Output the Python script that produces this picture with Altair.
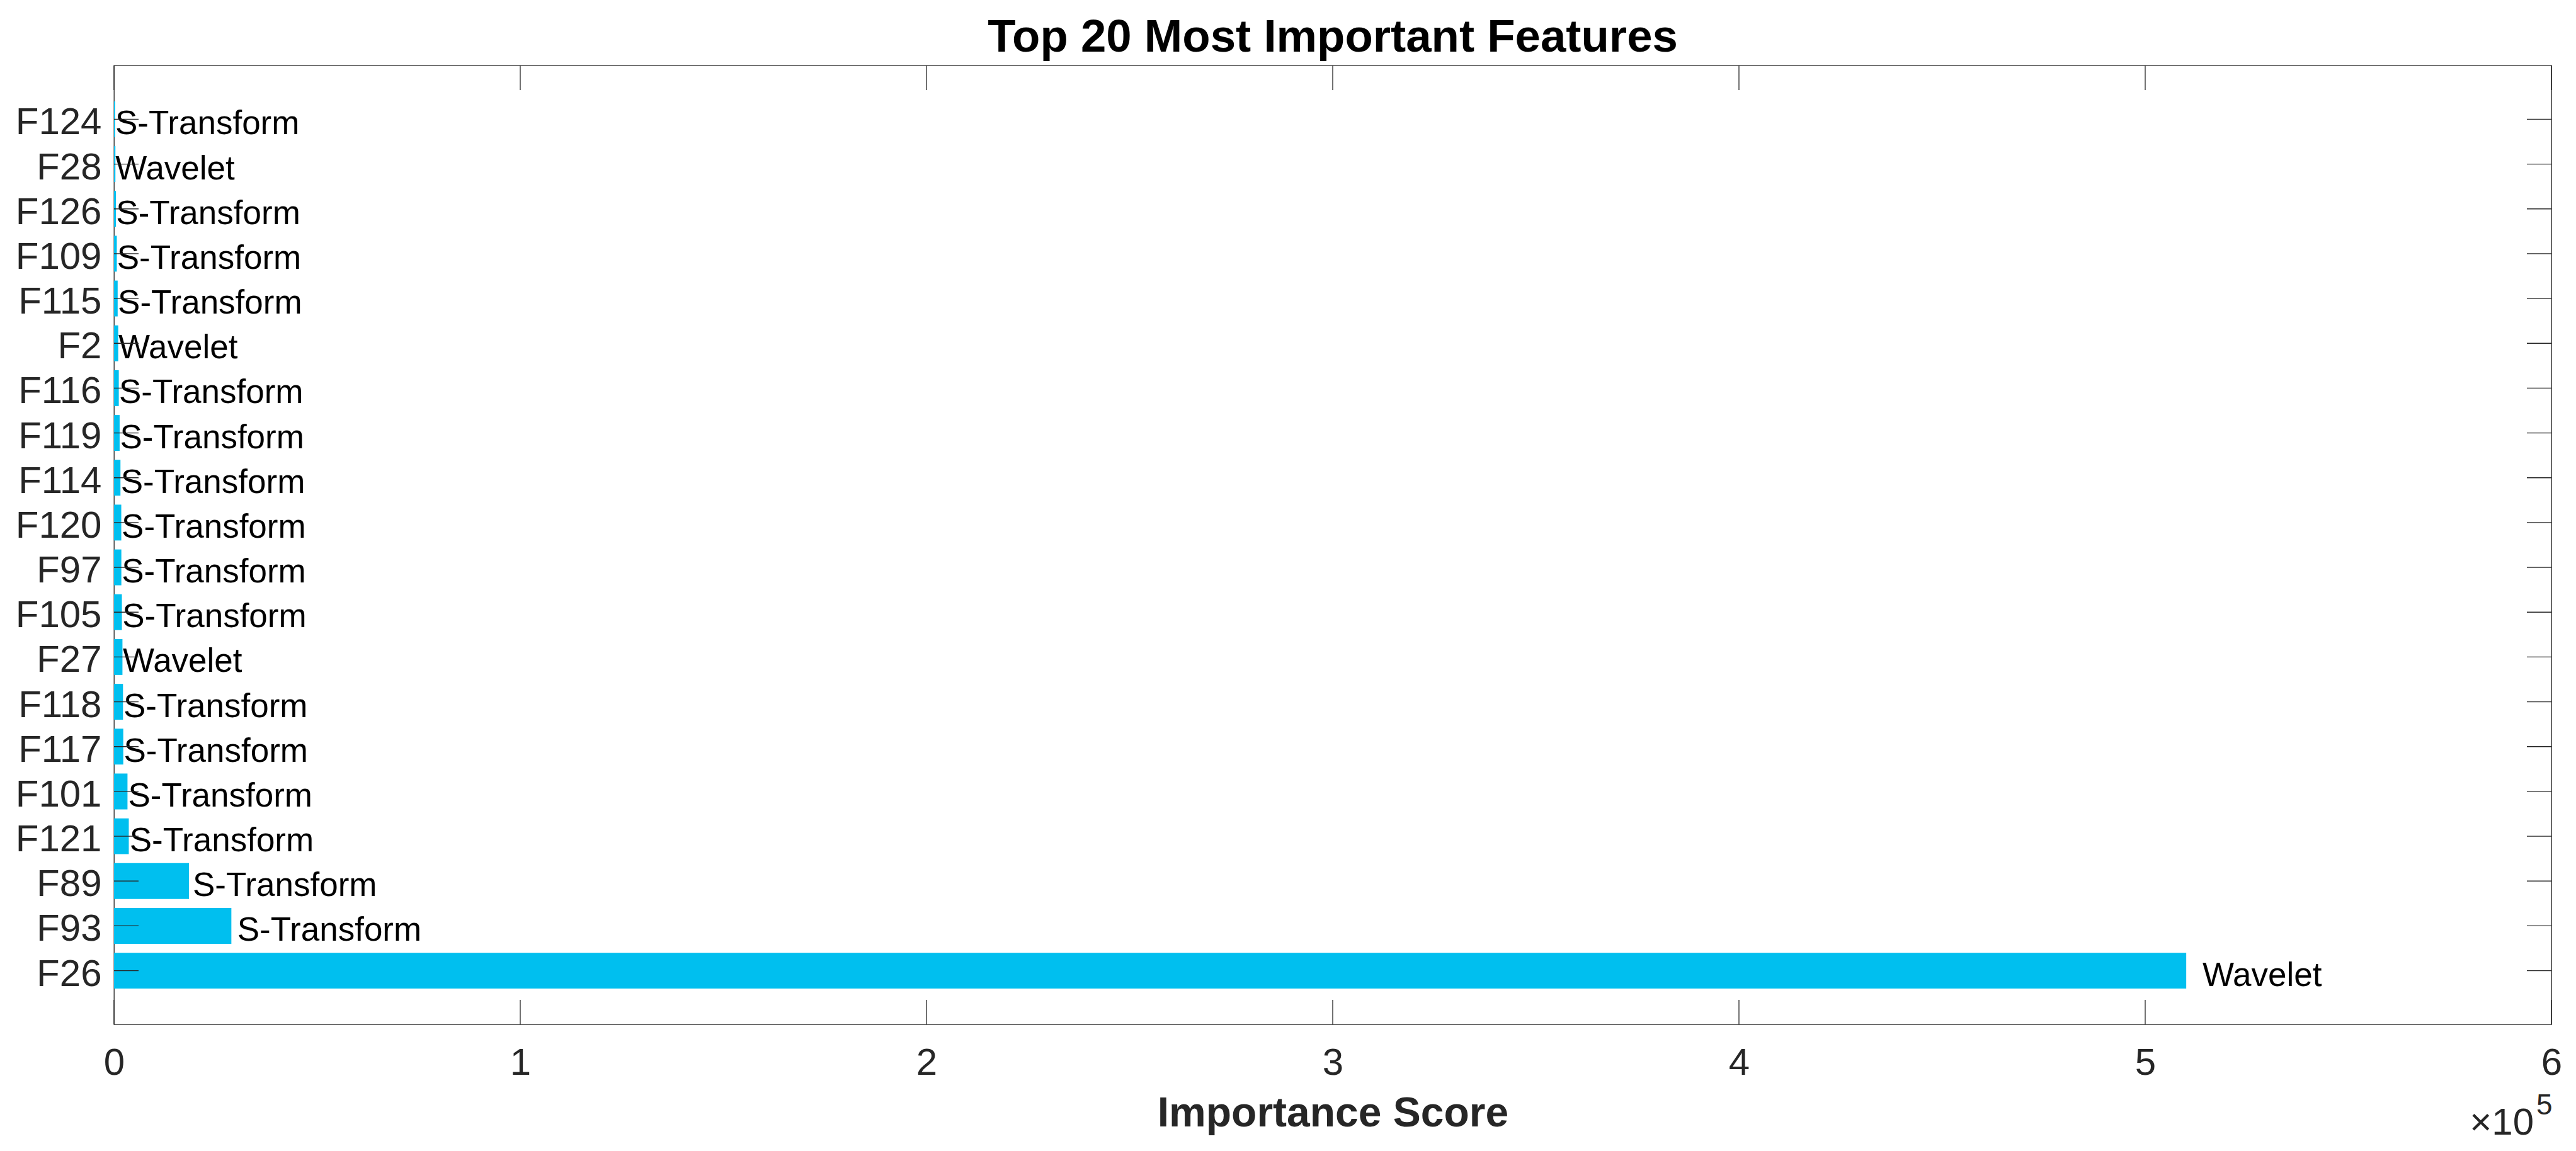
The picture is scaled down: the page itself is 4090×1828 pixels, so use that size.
import altair as alt
import pandas as pd

# ---- data ----
features = ["F124", "F28", "F126", "F109", "F115", "F2", "F116", "F119", "F114", "F120",
            "F97", "F105", "F27", "F118", "F117", "F101", "F121", "F89", "F93", "F26"]
scores = [280, 345, 485, 690, 900, 1040, 1180, 1385, 1590, 1790,
          1810, 1940, 2080, 2215, 2280, 3320, 3640, 18450, 28890, 510100]
methods = ["S-Transform", "Wavelet", "S-Transform", "S-Transform", "S-Transform", "Wavelet",
           "S-Transform", "S-Transform", "S-Transform", "S-Transform", "S-Transform",
           "S-Transform", "Wavelet", "S-Transform", "S-Transform", "S-Transform",
           "S-Transform", "S-Transform", "S-Transform", "Wavelet"]
x_ticks = [0, 100000, 200000, 300000, 400000, 500000, 600000]
exp_base = ["×10"]
exp_power = ["5"]

W, H = 3870, 1523
FONT = "Liberation Sans"
AX = "#262626"
BAR = "#00BFEF"
TICK_LEN = 39

df = pd.DataFrame({"feature": features, "score": scores, "method": methods})
ticks_df = pd.DataFrame({"t": x_ticks})

x_scale = alt.Scale(domain=[0, 600000], nice=False, zero=True)
y_scale = alt.Scale(paddingInner=0.2, paddingOuter=0.8)

x_axis = alt.Axis(values=x_ticks, labelExpr="datum.value / 100000",
                  grid=False, domain=False, ticks=False,
                  labelFont=FONT, labelFontSize=60, labelColor=AX,
                  labelPadding=79, labelBaseline="alphabetic",
                  labelFlush=False, labelOverlap=False,
                  title="Importance Score", titleFont=FONT, titleFontSize=66,
                  titleFontWeight="bold", titleColor=AX,
                  titleBaseline="alphabetic", titleY=161)
y_axis = alt.Axis(title=None, domain=False, ticks=False, grid=False,
                  labelFont=FONT, labelFontSize=60, labelColor=AX,
                  labelPadding=20, labelOffset=6)


def X(field):
    return alt.X(field, scale=x_scale, axis=x_axis)


def Y():
    return alt.Y("feature:N", sort=features, scale=y_scale, axis=y_axis)


bars = alt.Chart(df).mark_bar(color=BAR).encode(x=X("score:Q"), y=Y())

labels = alt.Chart(df).transform_calculate(
    lab="datum.score + min(datum.score * 0.05, 4000)"
).mark_text(align="left", baseline="alphabetic", dy=24, font=FONT,
            fontSize=53, color="black").encode(
    x=X("lab:Q"), y=Y(), text="method:N")

rule_style = dict(color=AX, strokeWidth=1.3)
ytick_left = alt.Chart(df).mark_rule(**rule_style).encode(
    y=Y(), x=alt.value(0), x2=alt.value(TICK_LEN))
ytick_right = alt.Chart(df).mark_rule(**rule_style).encode(
    y=Y(), x=alt.value(W - TICK_LEN), x2=alt.value(W))
xtick_bottom = alt.Chart(ticks_df).mark_rule(**rule_style).encode(
    x=X("t:Q"), y=alt.value(H), y2=alt.value(H - TICK_LEN))
xtick_top = alt.Chart(ticks_df).mark_rule(**rule_style).encode(
    x=X("t:Q"), y=alt.value(0), y2=alt.value(TICK_LEN))

exp_a = alt.Chart(pd.DataFrame({"s": exp_base})).mark_text(
    align="right", baseline="alphabetic", font=FONT, fontSize=60, color=AX).encode(
    text="s:N", x=alt.value(3842), y=alt.value(1698))
exp_b = alt.Chart(pd.DataFrame({"s": exp_power})).mark_text(
    align="left", baseline="alphabetic", font=FONT, fontSize=46, color=AX).encode(
    text="s:N", x=alt.value(3846), y=alt.value(1666))

chart = alt.layer(
    bars, labels, ytick_left, ytick_right, xtick_bottom, xtick_top, exp_a, exp_b
).properties(
    width=W, height=H,
    title=alt.TitleParams("Top 20 Most Important Features", font=FONT, fontSize=72.6,
                          fontWeight="bold", color="black", anchor="middle",
                          baseline="alphabetic", offset=19, dy=70),
    autosize=alt.AutoSizeParams(type="none"),
    padding={"left": 173, "top": 96, "right": 31, "bottom": 180},
    background="white",
).configure_view(stroke=AX, strokeWidth=1.3)

chart.save("out.html", embed_options={"renderer": "svg", "actions": False})
